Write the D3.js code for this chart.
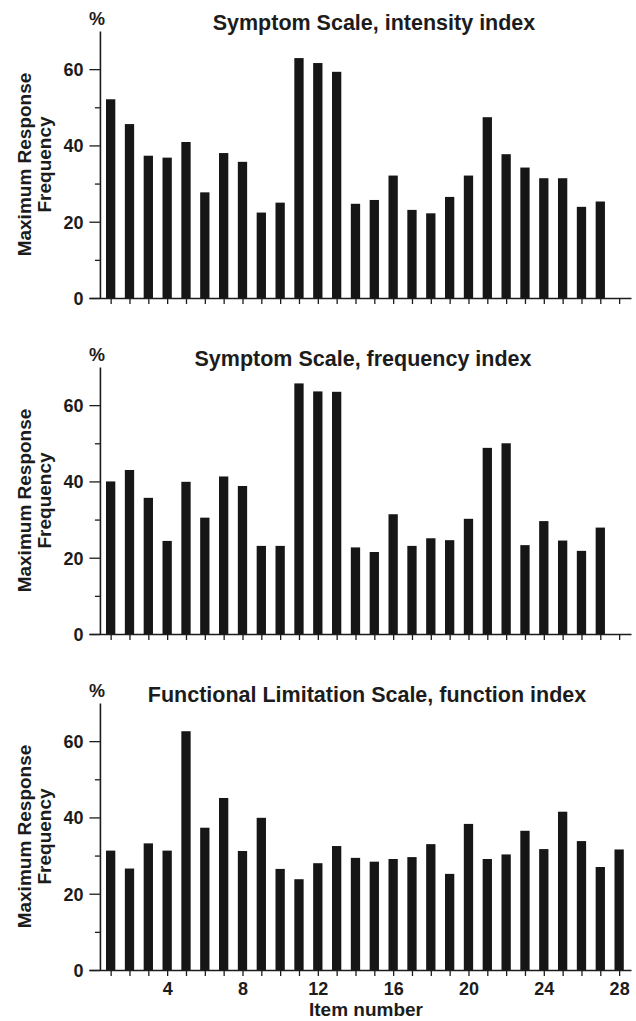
<!DOCTYPE html>
<html>
<head>
<meta charset="utf-8">
<style>
  body {margin: 0; background: #fff;}
  text {font-family: "Liberation Sans", Arial, Helvetica, sans-serif; font-weight: bold; fill: #1c1c1c;}
  .axis path, .axis line {stroke: #1c1c1c;}
</style>
<script src="https://d3js.org/d3.v7.min.js"></script>
</head>
<body>
<div id="chart"></div>
<script>

const items = d3.range(1, 29)

const titles = [
  'Symptom Scale, intensity index',
  'Symptom Scale, frequency index',
  'Functional Limitation Scale, function index'
]

// maximum response frequency (%) per item
const intensity = [52.1, 45.6, 37.3, 36.8, 40.9, 27.7, 38.0, 35.7, 22.4, 25.0,
  62.9, 61.6, 59.3, 24.7, 25.7, 32.1, 23.1, 22.2, 26.5, 32.1,
  47.4, 37.7, 34.2, 31.4, 31.4, 23.9, 25.3]

const frequency = [40.0, 43.0, 35.7, 24.4, 39.9, 30.5, 41.3, 38.8, 23.1, 23.1,
  65.7, 63.6, 63.5, 22.7, 21.5, 31.4, 23.1, 25.1, 24.6, 30.2,
  48.8, 50.0, 23.3, 29.6, 24.5, 21.8, 27.9]

const functionIdx = [31.3, 26.6, 33.2, 31.3, 62.6, 37.3, 45.1, 31.2, 39.9, 26.5,
  23.8, 28.0, 32.5, 29.4, 28.4, 29.1, 29.6, 33.0, 25.2, 38.3,
  29.1, 30.3, 36.5, 31.7, 41.5, 33.8, 27.0, 31.6]

const series = [intensity, frequency, functionIdx]

const yMajor = [0, 20, 40, 60]
const yMinor = [10, 30, 50]
const xLabelled = [4, 8, 12, 16, 20, 24, 28]

const width = 636
const height = 1021
const panelStep = 336
const titleX = [374, 363, 367]

const svg = d3.select('#chart').append('svg')
  .attr('width', width)
  .attr('height', height)

const x = d3.scaleLinear()
  .domain([-0.15, 28.63])
  .range([89, 631])

const y = d3.scaleLinear()
  .domain([0, 70])
  .range([298, 31])

const barW = 9.3

series.forEach((values, p) => {
  const g = svg.append('g')
    .attr('transform', 'translate(0,' + (p * panelStep) + ')')

  // bars
  g.append('g')
    .selectAll('rect')
    .data(values)
    .enter().append('rect')
      .attr('x', (d, i) => x(items[i]) - barW / 2)
      .attr('y', d => y(d))
      .attr('width', barW)
      .attr('height', d => y(0) - y(d))
      .attr('fill', '#161616')

  // y axis, minor ticks first
  g.append('g')
    .attr('class', 'axis')
    .attr('transform', 'translate(' + x(0.43) + ',0)')
    .call(d3.axisLeft(y).tickValues(yMinor).tickSize(5).tickSizeOuter(0).tickFormat(''))
    .call(a => a.selectAll('line').attr('stroke-width', 1.3))
    .call(a => a.select('.domain').attr('stroke-width', 1.6))

  g.append('g')
    .attr('class', 'axis')
    .attr('transform', 'translate(' + x(0.43) + ',0)')
    .call(d3.axisLeft(y).tickValues(yMajor).tickSize(10.5).tickPadding(6).tickSizeOuter(0))
    .call(a => a.select('.domain').remove())
    .call(a => a.selectAll('line').attr('stroke-width', 1.3))
    .call(a => a.selectAll('text').style('font-size', '18px').attr('dy', '0.36em'))

  // x axis
  g.append('g')
    .attr('class', 'axis')
    .attr('transform', 'translate(0,' + y(0) + ')')
    .call(d3.axisBottom(x).tickValues(items).tickSize(6).tickPadding(6).tickSizeOuter(0)
      .tickFormat(d => (p === 2 && xLabelled.includes(d)) ? d : ''))
    .call(a => a.selectAll('line').attr('stroke-width', 1.3))
    .call(a => a.select('.domain').attr('stroke-width', 1.6))
    .call(a => a.selectAll('text').style('font-size', '18px'))

  // title
  g.append('text')
    .attr('x', titleX[p])
    .attr('y', y(0) - 268)
    .attr('text-anchor', 'middle')
    .style('font-size', '21.5px')
    .text(titles[p])

  // percent sign
  g.append('text')
    .attr('x', 97)
    .attr('y', y(0) - 273)
    .attr('text-anchor', 'middle')
    .style('font-size', '18px')
    .text('%')

  // y label, two lines
  const ly = g.append('text')
    .attr('transform', 'translate(31,' + y(35) + ') rotate(-90)')
    .attr('text-anchor', 'middle')
    .style('font-size', '19px')
  ly.append('tspan').attr('x', 0).attr('y', 0).text('Maximum Response')
  ly.append('tspan').attr('x', 0).attr('y', 20).text('Frequency')
})

svg.append('text')
  .attr('x', 366)
  .attr('y', 1016)
  .attr('text-anchor', 'middle')
  .style('font-size', '19px')
  .text('Item number')

</script>
</body>
</html>
